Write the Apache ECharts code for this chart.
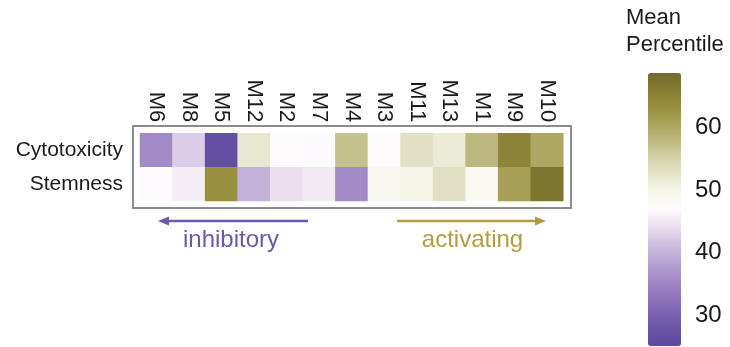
<!DOCTYPE html>
<html>
<head>
<meta charset="utf-8">
<title>Module mean percentile heatmap</title>
<script src="https://cdn.jsdelivr.net/npm/echarts@6/dist/echarts.min.js"></script>
<style>
  html, body { margin: 0; padding: 0; background: #ffffff; }
  #chart { width: 730px; height: 347px; }
</style>
</head>
<body>
<div id="chart"></div>
<script>
// Gene modules, ordered from most inhibitory to most activating
var modules = ['M6', 'M8', 'M5', 'M12', 'M2', 'M7', 'M4', 'M3', 'M11', 'M13', 'M1', 'M9', 'M10'];
var programs = ['Cytotoxicity', 'Stemness'];

// Mean percentile per module for each program
var cytotoxicity = [36.0, 43.0, 27.0, 52.5, 47.5, 47.3, 57.5, 47.5, 53.5, 52.0, 58.5, 65.5, 60.5];
var stemness     = [47.4, 46.0, 63.5, 40.5, 44.6, 45.6, 36.0, 49.5, 50.5, 53.5, 49.3, 61.5, 67.5];

// Colour scale extent and its ticks
var scaleMin = 25.5;
var scaleMax = 69.2;
var scaleLabels = [30, 40, 50, 60];
var scaleTicks = [26, 28, 30, 32, 34, 36, 38, 40, 42, 44, 46, 48, 50, 52, 54, 56, 58, 60, 62, 64, 66, 68];

// Purple -> white -> olive diverging palette (evenly spaced stops over the scale)
var palette = [
  '#5c499e', '#6a54a6', '#7e64b2', '#9179bd', '#a48dc8', '#b9a5d4', '#d0c0e1', '#ebdeef',
  '#fdfbfd',
  '#f7f7ec', '#e6e5cc', '#d4d2ac', '#bfba82', '#aaa35c', '#978e3c', '#867d32', '#726a2c'
];

var FONT = '"Liberation Sans", Arial, Helvetica, sans-serif';
var INK = '#1a1a1a';

var cells = [];
[cytotoxicity, stemness].forEach(function (row, r) {
  row.forEach(function (v, c) { cells.push([c, r, v]); });
});

var chart = echarts.init(document.getElementById('chart'), null, { renderer: 'canvas' });

chart.setOption({
  animation: false,
  backgroundColor: '#ffffff',
  textStyle: { fontFamily: FONT },
  title: {
    text: 'Mean\nPercentile',
    left: 626,
    top: 4,
    padding: 0,
    textStyle: { fontFamily: FONT, fontSize: 22, fontWeight: 'normal', color: INK, lineHeight: 27 }
  },
  grid: [
    { left: 140, top: 133.3, width: 423.3, height: 67.7, show: false },
    { left: 648, top: 73, width: 33, height: 273, show: false }
  ],
  xAxis: [
    {
      gridIndex: 0,
      type: 'category',
      data: modules,
      position: 'top',
      axisLine: { show: false },
      axisTick: { show: false },
      splitLine: { show: false },
      axisLabel: { rotate: 90, fontSize: 22, margin: 11, color: INK, fontFamily: FONT, interval: 0 }
    },
    { gridIndex: 1, type: 'value', show: false, min: 0, max: 1 }
  ],
  yAxis: [
    {
      gridIndex: 0,
      type: 'category',
      data: programs,
      inverse: true,
      axisLine: { show: false },
      axisTick: { show: false },
      splitLine: { show: false },
      axisLabel: { fontSize: 21, margin: 17, color: INK, fontFamily: FONT }
    },
    {
      gridIndex: 1,
      type: 'value',
      position: 'right',
      min: scaleMin,
      max: scaleMax,
      axisLine: { show: false },
      splitLine: { show: false },
      axisTick: {
        show: true,
        customValues: scaleTicks,
        length: 4,
        lineStyle: { color: '#c4c4c4', width: 1 }
      },
      axisLabel: {
        customValues: scaleLabels,
        fontSize: 24,
        margin: 14,
        color: INK,
        fontFamily: FONT,
        verticalAlign: 'bottom',
        lineHeight: 6
      }
    }
  ],
  visualMap: {
    type: 'continuous',
    seriesIndex: 0,
    min: scaleMin,
    max: scaleMax,
    orient: 'vertical',
    left: 648,
    top: 73,
    padding: 0,
    itemWidth: 33,
    itemHeight: 273,
    calculable: false,
    hoverLink: false,
    inRange: { color: palette }
  },
  graphic: [
    {
      type: 'rect',
      shape: { x: 133, y: 126, width: 438, height: 82 },
      style: { fill: 'none', stroke: '#8c8c8c', lineWidth: 2 },
      silent: true
    },
    {
      type: 'line',
      shape: { x1: 308, y1: 221, x2: 164, y2: 221 },
      style: { stroke: '#6a58b0', lineWidth: 2.5 },
      silent: true
    },
    {
      type: 'polygon',
      shape: { points: [[158, 221], [169, 216.5], [169, 225.5]] },
      style: { fill: '#6a58b0' },
      silent: true
    },
    {
      type: 'text',
      x: 231, y: 240,
      style: { text: 'inhibitory', fontSize: 24, fontFamily: FONT, fill: '#6a58b0', textAlign: 'center', textVerticalAlign: 'middle' },
      silent: true
    },
    {
      type: 'line',
      shape: { x1: 397, y1: 221, x2: 540, y2: 221 },
      style: { stroke: '#b39c42', lineWidth: 2.5 },
      silent: true
    },
    {
      type: 'polygon',
      shape: { points: [[546, 221], [535, 216.5], [535, 225.5]] },
      style: { fill: '#b39c42' },
      silent: true
    },
    {
      type: 'text',
      x: 472.5, y: 240,
      style: { text: 'activating', fontSize: 24, fontFamily: FONT, fill: '#b39c42', textAlign: 'center', textVerticalAlign: 'middle' },
      silent: true
    }
  ],
  series: [
    {
      type: 'heatmap',
      xAxisIndex: 0,
      yAxisIndex: 0,
      data: cells,
      itemStyle: { borderWidth: 0 },
      emphasis: { disabled: true },
      progressive: 0
    }
  ]
});
</script>
</body>
</html>
